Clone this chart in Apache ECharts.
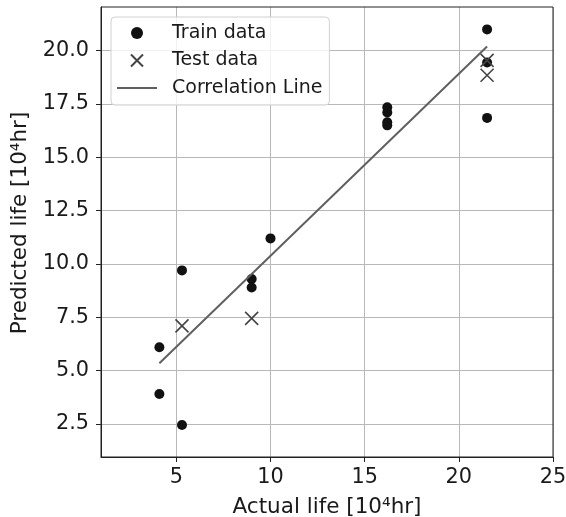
<!DOCTYPE html>
<html lang="en">
<head>
  <meta charset="UTF-8">
  <title>Predicted vs actual life</title>
  <style>
    html, body { margin: 0; padding: 0; background: #fff; }
    #chart { width: 566px; height: 517px; }
  </style>
  <script src="https://cdn.jsdelivr.net/npm/echarts@6/dist/echarts.min.js"></script>
</head>
<body>
  <div id="chart"></div>
  <script>
    // values
    var trainX = [4.1, 4.1, 5.3, 5.3, 9.0, 9.0, 10.0, 16.2, 16.2, 16.2, 16.2, 21.5, 21.5, 21.5];
    var trainY = [6.1, 3.9, 9.7, 2.45, 9.3, 8.9, 11.2, 17.35, 17.1, 16.65, 16.5, 21.0, 19.45, 16.85];
    var testX = [5.3, 9.0, 21.5, 21.5];
    var testY = [7.1, 7.45, 19.55, 18.85];
    var lineX = [4.1, 21.5];
    var lineY = [5.35, 20.2];
    var xTicks = [5, 10, 15, 20, 25];
    var yTicks = [2.5, 5, 7.5, 10, 12.5, 15, 17.5, 20];

    function pairs(xs, ys) {
      return xs.map(function (x, i) { return [x, ys[i]]; });
    }

    var font = 'DejaVu Sans';
    var cross = 'path://M0,0L10,10M10,0L0,10';

    var myChart = echarts.init(document.getElementById('chart'));
    var option = {
      animation: false,
      grid: { left: 101, right: 13, top: 7, bottom: 60, outerBoundsMode: 'none' },
      legend: {
        orient: 'vertical',
        left: 111,
        top: 17,
        padding: [6, 7, 7, 5],
        itemWidth: 40,
        itemHeight: 12,
        itemGap: 7.5,
        borderColor: '#d0d0d0',
        borderWidth: 1,
        borderRadius: 4,
        backgroundColor: 'rgba(255,255,255,0.8)',
        textStyle: { fontFamily: font, fontSize: 19, color: '#1a1a1a', lineHeight: 20, padding: [0, 0, 0, 10] },
        data: [
          'Train data',
          'Test data',
          { name: 'Correlation Line', itemStyle: { color: 'rgba(0,0,0,0)', borderWidth: 0 } }
        ]
      },
      xAxis: {
        type: 'value',
        min: 1,
        max: 25,
        name: 'Actual life [10⁴hr]',
        nameLocation: 'middle',
        nameGap: 39,
        nameTextStyle: { fontFamily: font, fontSize: 21.5, color: '#1a1a1a' },
        axisLine: { show: true, onZero: false, lineStyle: { color: '#222', width: 1 } },
        axisTick: { show: true, length: 5, customValues: xTicks, lineStyle: { color: '#222' } },
        axisLabel: { customValues: xTicks, margin: 10, fontFamily: font, fontSize: 20.8, color: '#1a1a1a' },
        splitLine: { show: true, lineStyle: { color: '#b8b8b8', width: 1 } }
      },
      yAxis: {
        type: 'value',
        min: 0.95,
        max: 22.05,
        name: 'Predicted life [10⁴hr]',
        nameLocation: 'middle',
        nameGap: 61,
        nameTextStyle: { fontFamily: font, fontSize: 21.5, color: '#1a1a1a', padding: [0, 0, 0, 18] },
        axisLine: { show: true, onZero: false, lineStyle: { color: '#222', width: 1 } },
        axisTick: { show: true, length: 5, customValues: yTicks, lineStyle: { color: '#222' } },
        axisLabel: {
          customValues: yTicks, margin: 12, fontFamily: font, fontSize: 20.8, color: '#1a1a1a',
          formatter: function (v) { return v.toFixed(1); }
        },
        splitLine: { show: true, lineStyle: { color: '#b8b8b8', width: 1 } }
      },
      series: [
        {
          name: 'Train data',
          type: 'scatter',
          symbol: 'circle',
          symbolSize: 10,
          itemStyle: { color: '#111', opacity: 1 },
          data: pairs(trainX, trainY),
          z: 2
        },
        {
          name: 'Test data',
          type: 'scatter',
          symbol: cross,
          symbolSize: 13,
          itemStyle: { color: 'none', borderColor: '#444', borderWidth: 1.6, opacity: 1 },
          data: pairs(testX, testY),
          z: 3
        },
        {
          name: 'Correlation Line',
          type: 'line',
          symbol: 'none',
          lineStyle: { color: '#606060', width: 2 },
          itemStyle: { color: '#606060' },
          data: pairs(lineX, lineY),
          z: 4
        }
      ]
    };
    myChart.setOption(option);

    // top and right edges of the frame
    myChart.setOption({
      graphic: [{
        type: 'rect',
        shape: { x: 101, y: 7, width: 452, height: 450 },
        style: { fill: 'none', stroke: '#222', lineWidth: 1 },
        silent: true,
        z: 10
      }]
    });
  </script>
</body>
</html>
